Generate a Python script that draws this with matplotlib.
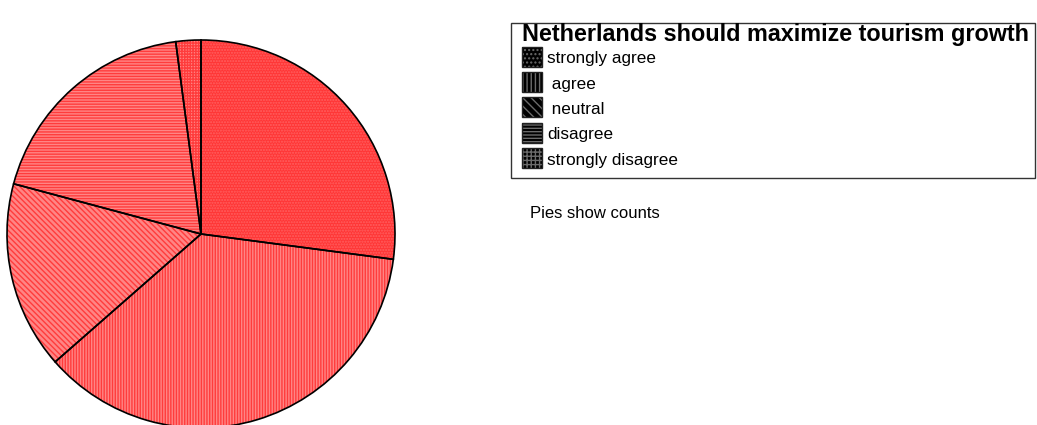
import matplotlib
matplotlib.use('Agg')
import matplotlib.pyplot as plt
from matplotlib.patches import Rectangle

plt.rcParams['font.family'] = ['Liberation Sans', 'DejaVu Sans']
plt.rcParams['hatch.linewidth'] = 1.0

# counts per answer
labels = ['strongly agree', ' agree', ' neutral', 'disagree', 'strongly disagree']
counts = [26, 35, 15, 18, 2]
hatches = ['......', '||||||', '\\\\\\\\\\\\', '------', '++++++']
key_hatches = ['....', '||||', '\\\\\\\\', '-----', '++++']
face_colors = ['#ff3636', '#ff8585', '#ff8585', '#ff8585', '#ff8585']
hatch_colors = ['#ff6060', '#ff3c3c', '#ff3c3c', '#ff3c3c', '#ff3c3c']
legend_title = 'Netherlands should maximize tourism growth'
note = 'Pies show counts'

W, H = 1037, 425
fig = plt.figure(figsize=(W / 100, H / 100), dpi=100)

# pie axes, centre (201, 234) px, radius 193 px
cx, cy, r = 201, 234, 194
ax = fig.add_axes([(cx - r) / W, (H - cy - r) / H, 2 * r / W, 2 * r / H])

wedges, _ = ax.pie(counts, startangle=90, counterclock=False, radius=1,
                   colors=face_colors,
                   wedgeprops=dict(linewidth=0))
for w, h, hc in zip(wedges, hatches, hatch_colors):
    w.set_hatch(h)
    w.set_edgecolor(hc)

# black outlines on top
outline, _ = ax.pie(counts, startangle=90, counterclock=False, radius=1,
                    wedgeprops=dict(fill=False, edgecolor='black', linewidth=1.2))
ax.set_xlim(-1, 1)
ax.set_ylim(-1, 1)
ax.axis('off')


def fx(px):
    return px / W


def fy(py):
    return 1 - py / H


# legend box drawn by hand
fig.patches.append(Rectangle((fx(511), fy(178)), fx(1035) - fx(511), fy(23) - fy(178),
                             transform=fig.transFigure, fill=False,
                             edgecolor='#333333', linewidth=1.0))
fig.text(fx(522), fy(41), legend_title, fontsize=16.8, fontweight='bold',
         va='baseline', ha='left')

row_top = [47, 72, 97, 123, 148]
baselines = [63, 88.5, 114, 139.5, 165]
for lab, h, top, base in zip(labels, key_hatches, row_top, baselines):
    box = (fx(522), fy(top + 20))
    bw, bh = fx(542) - fx(522), fy(top) - fy(top + 20)
    fig.patches.append(Rectangle(box, bw, bh, transform=fig.transFigure,
                                 facecolor='black', edgecolor='#6a6a6a',
                                 hatch=h, linewidth=0))
    fig.patches.append(Rectangle(box, bw, bh, transform=fig.transFigure, fill=False,
                                 edgecolor='#222222', linewidth=1.0))
    fig.text(fx(547), fy(base), lab, fontsize=12.3, va='baseline', ha='left')

fig.text(fx(530), fy(218), note, fontsize=12, va='baseline', ha='left')

fig.savefig('out.png', dpi=100)
